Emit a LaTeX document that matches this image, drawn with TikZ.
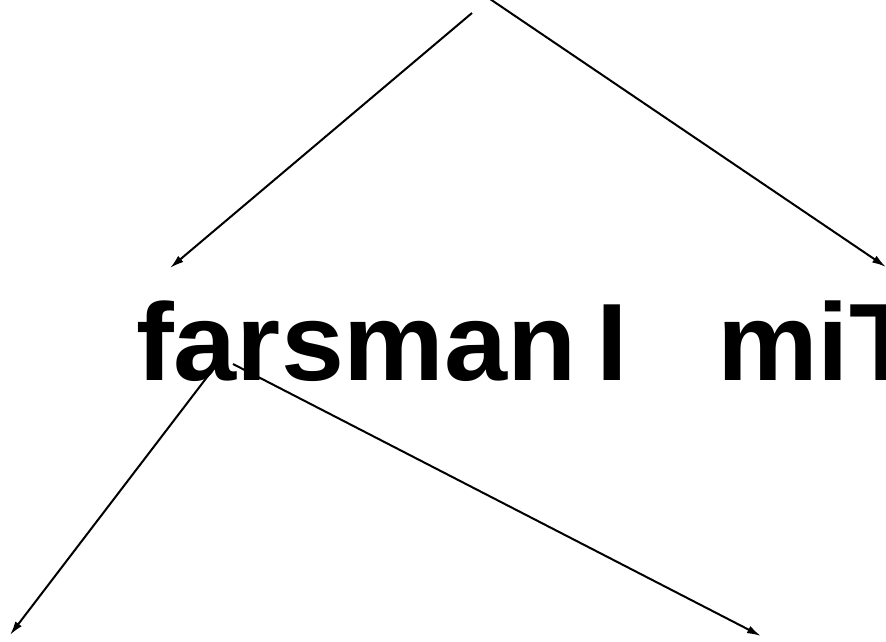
\documentclass[tikz,border=0pt]{standalone}
\usepackage{fontspec}
\setmainfont[WordSpace=0.62]{Liberation Sans}
\usepackage{tikz}
\usetikzlibrary{arrows.meta, positioning}

\begin{document}
\begin{tikzpicture}[
  x=1pt, y=-1pt,
  word/.style={inner sep=0pt, anchor=base west, xscale=1.03,
               font=\fontsize{110}{110}\bfseries\selectfont},
  arr/.style={-{Latex[length=14pt,width=8pt]}, line width=2pt, black},
]
\useasboundingbox (0,0) rectangle (886,642);
\clip (0,0) rectangle (886,642);

% words
\node[word] (left) at (136,380) {farsman I};
\node[word] (right) at (717,380) {miT};

% end points of the connectors
\coordinate (topa) at (472,13);
\coordinate (topb) at (490,-1);
\coordinate (la) at (170,268);
\coordinate (lb) at (886,267);
\coordinate (fa) at (214,368);
\coordinate (fb) at (233,364);
\coordinate (ba) at (10,635);
\coordinate (bb) at (761,636);

\draw[arr] (topa) -- (la);
\draw[arr] (topb) -- (lb);
\draw[arr] (fa) -- (ba);
\draw[arr] (fb) -- (bb);
\end{tikzpicture}
\end{document}
